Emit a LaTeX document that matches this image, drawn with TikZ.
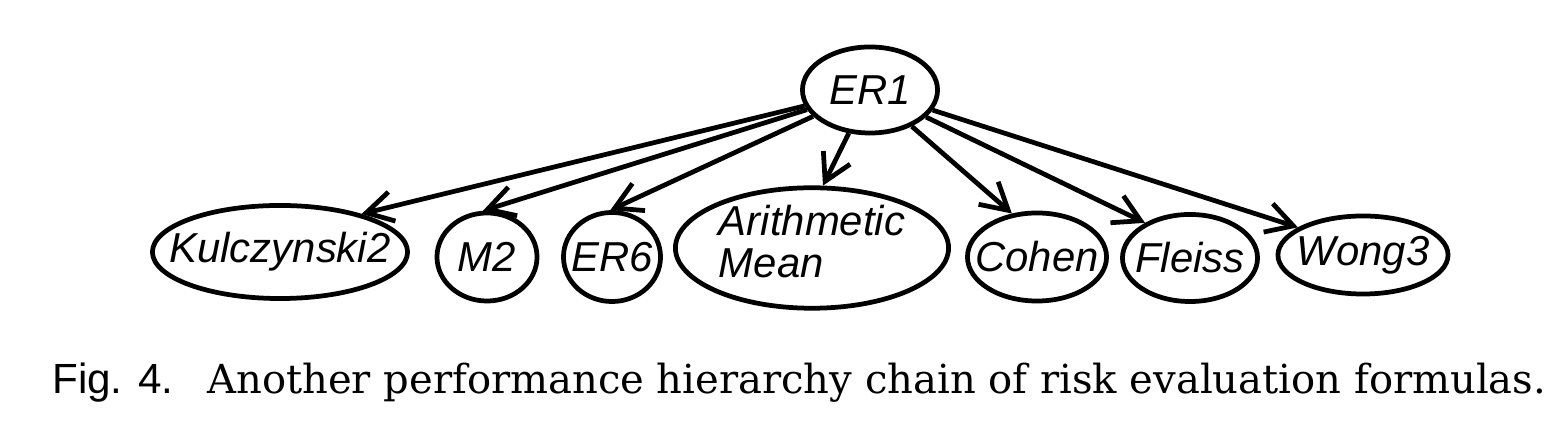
\documentclass[tikz,border=0pt]{standalone}
\usepackage{fontspec}
\setmainfont{DejaVu Serif}
\setsansfont{Liberation Sans}
\usetikzlibrary{shapes.geometric, arrows.meta}

\newcommand{\ftext}[1]{\makebox[0pt]{#1}}

\begin{document}
\begin{tikzpicture}[x=0.01cm, y=-0.01cm, line width=1.35pt,
    formula/.style={ellipse, draw, inner sep=0pt,
      font=\sffamily\itshape\fontsize{11.9}{12}\selectfont},
    chain/.style={-{Straight Barb[length=7.5pt, width=8.5pt]}}]
  \useasboundingbox (0,0) rectangle (1554,428);
  % Define vertices
  \node[formula, minimum width=1.35cm, minimum height=0.86cm] (ER1) at (870,90) {\ftext{ER1}};
  \node[formula, minimum width=2.55cm, minimum height=0.93cm] (Kulczynski2) at (280,252) {\ftext{Kulczynski2}};
  \node[formula, minimum width=1.0cm, minimum height=0.88cm] (M2) at (487,257) {\ftext{M2}};
  \node[formula, minimum width=0.97cm, minimum height=0.89cm] (ER6) at (612,257) {\ftext{ER6}};
  \node[formula, minimum width=2.73cm, minimum height=1.11cm] (AM) at (812,248)
    {\ftext{\begin{tabular}{@{}l@{}}Arithmetic\\Mean\end{tabular}}};
  \node[formula, minimum width=1.39cm, minimum height=0.88cm] (Cohen) at (1037,257) {\ftext{Cohen}};
  \node[formula, minimum width=1.35cm, minimum height=0.87cm] (Fleiss) at (1190,258) {\ftext{Fleiss}};
  \node[formula, minimum width=1.7cm, minimum height=0.78cm] (Wong3) at (1363,255) {\ftext{Wong3}};
  % Draw edges, each to the point where its head sits
  \foreach \n/\a in {Kulczynski2/25, M2/95, ER6/92, AM/80, Cohen/120, Fleiss/142, Wong3/157}{
    \draw[chain] (ER1) -- (\n.\a);
  }
  % Caption
  \node[anchor=base west, inner sep=0pt, font=\sffamily\fontsize{12}{14}\selectfont] (figno) at (50,394) {Fig. 4.};
  \node[anchor=base west, inner sep=0pt] (caption) at (205,394)
    {\resizebox{13.38cm}{!}{\fontsize{11.5}{13}\selectfont Another performance hierarchy chain of risk evaluation formulas.}};
\end{tikzpicture}
\end{document}
